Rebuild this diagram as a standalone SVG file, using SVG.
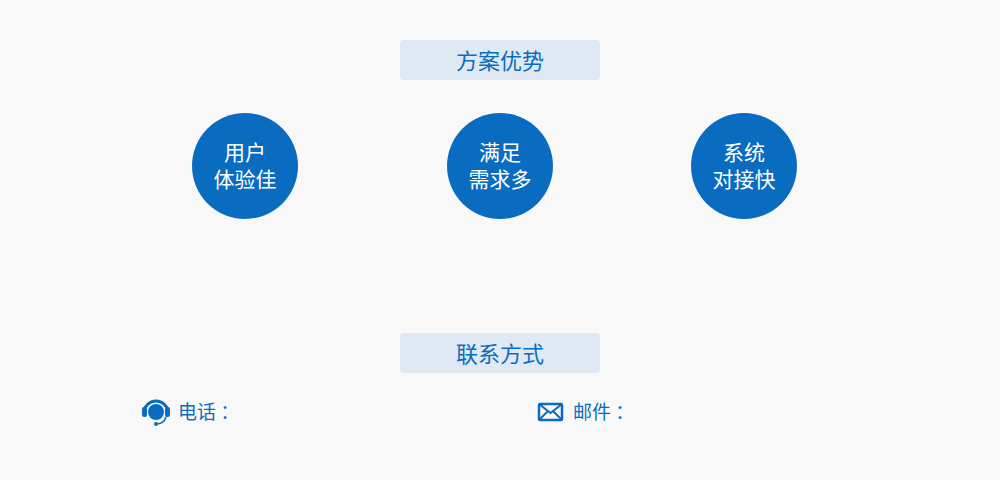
<svg xmlns="http://www.w3.org/2000/svg" width="1000" height="480" viewBox="0 0 1000 480">
<style>
.t{font-family:"Noto Sans CJK SC","Noto Sans",sans-serif;}
.h{fill:#dfe9f3}
.ht{font-size:22px;fill:#0a6cc0;text-anchor:middle}
.c{fill:#0a6cc0}
.ct{font-size:21px;fill:#fff;text-anchor:middle}
.l{font-size:19px;fill:#0a6cc0}
</style>
<rect width="1000" height="480" fill="#f8f8f8"/>
<g id="title1"><rect class="h" x="400" y="40" width="200" height="40" rx="4"/><text class="t ht" x="500" y="69">方案优势</text></g>
<g id="n1"><circle class="c" cx="245" cy="166" r="53"/><text class="t ct" x="245" y="160">用户</text><text class="t ct" x="245" y="187">体验佳</text></g>
<g id="n2"><circle class="c" cx="500" cy="166" r="53"/><text class="t ct" x="500" y="160">满足</text><text class="t ct" x="500" y="187">需求多</text></g>
<g id="n3"><circle class="c" cx="744" cy="166" r="53"/><text class="t ct" x="744" y="160">系统</text><text class="t ct" x="744" y="187">对接快</text></g>
<g id="connectors"></g>
<g id="title2"><rect class="h" x="400" y="333" width="200" height="40" rx="4"/><text class="t ht" x="500" y="362">联系方式</text></g>
<g id="phone">
<path d="M144 413 A12 12 0 0 1 168 413" fill="none" stroke="#0a6cc0" stroke-width="3"/>
<circle class="c" cx="156" cy="412" r="8"/>
<rect class="c" x="142" y="407" width="5" height="10" rx="2"/>
<rect class="c" x="165" y="407" width="5" height="10" rx="2"/>
<path d="M166 417 Q164 424 156 424" fill="none" stroke="#0a6cc0" stroke-width="1.5"/>
<circle class="c" cx="156" cy="424" r="2"/>
<text class="t l" x="178" y="419">电话 ：</text></g>
<g id="mail">
<rect x="539" y="404" width="23" height="16" fill="none" stroke="#0a6cc0" stroke-width="2.5" rx="1"/>
<path d="M539 404 L550.5 413 L562 404 M539 420 L548 411 M562 420 L553 411" fill="none" stroke="#0a6cc0" stroke-width="2"/>
<text class="t l" x="573" y="419">邮件 ：</text></g>
</svg>
